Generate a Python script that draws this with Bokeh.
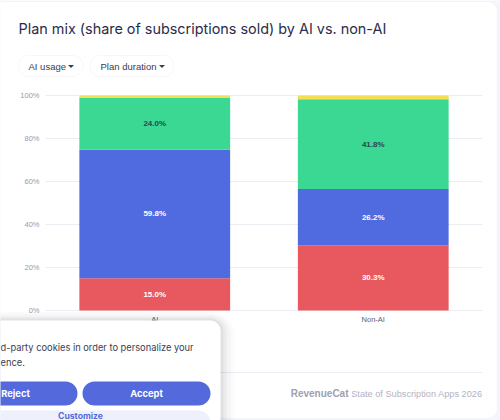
from bokeh.plotting import figure
from bokeh.models import (ColumnDataSource, Range1d, Label, BoxAnnotation,
                          PolyAnnotation)
from bokeh.embed import file_html
from bokeh.resources import INLINE
from bokeh.core.properties import value

# ---- data -------------------------------------------------------------
groups = ["AI", "Non-AI"]
plan_weekly = [15.0, 30.3]
plan_monthly = [59.8, 26.2]
plan_annual = [24.0, 41.8]
plan_other = [1.2, 1.7]
y_ticks = [0, 20, 40, 60, 80, 100]
y_tick_labels = ["0%", "20%", "40%", "60%", "80%", "100%"]

series = ["plan_weekly", "plan_monthly", "plan_annual", "plan_other"]
colors = ["#e8585f", "#506ae0", "#3ad893", "#f4df52"]
label_colors = ["#ffffff", "#ffffff", "#2c4352", None]

# ---- page geometry (canvas pixels, y grows downward) ------------------
W, H = 500, 420
FL, FR, FT, FB = 45, 482, 95, 310          # plot area inside the card
Y_MAX = 100.0

CHART_FONT = "Liberation Sans"
UI_FONT = "Inter"

# pixel space for the page furniture (y flipped so it grows downward)
p = figure(width=W, height=H, x_range=Range1d(0, W), y_range=Range1d(H, 0),
           output_backend="svg", toolbar_location=None,
           x_axis_location=None, y_axis_location=None, min_border=0)
p.background_fill_color = "#f5f6fd"
p.border_fill_color = "#f5f6fd"
p.outline_line_color = None
p.grid.visible = False

# category and percentage scales laid over the plot area
n = len(groups)
unit = (FR - FL) / n
p.extra_x_ranges = {"cat": Range1d((0 - FL) / unit, (W - FL) / unit)}
px_per_pct = (FB - FT) / Y_MAX
p.extra_y_ranges = {"pct": Range1d(-(H - FB) / px_per_pct, FB / px_per_pct)}

src = ColumnDataSource(dict(group=groups,
                            xpos=[i + 0.5 for i in range(n)],
                            plan_weekly=plan_weekly, plan_monthly=plan_monthly,
                            plan_annual=plan_annual, plan_other=plan_other))


# ---- helpers for the page furniture -------------------------------------
def box(l, t, r, b, fill, line=None, radius=0, alpha=1.0, level="annotation", lw=1):
    p.add_layout(BoxAnnotation(
        left=l, right=r, top=t, bottom=b,
        fill_color=fill, fill_alpha=alpha if fill else 0, line_color=line,
        line_width=lw, border_radius=int(round(radius)), level=level))


def label(cx, cy, text, size, color, font=UI_FONT, bold=False, align="left",
          level="annotation"):
    p.add_layout(Label(
        x=cx, y=cy, text=text,
        text_font=font, text_font_size=f"{size}px", text_color=color,
        text_align=align, text_baseline="middle",
        text_font_style="bold" if bold else "normal", level=level))


def caret(cx, cy, color):
    p.add_layout(PolyAnnotation(
        xs=[cx - 3, cx + 3, cx], ys=[cy - 1.5, cy - 1.5, cy + 1.5],
        fill_color=color, fill_alpha=1, line_color=None, level="annotation"))


# card
box(-12, 1, 497, 418, "#ffffff", line="#e1e3f3", radius=10, level="image")

# ---- chart ----------------------------------------------------------------
# horizontal grid
p.segment(x0=FL, x1=FR, y0=y_ticks, y1=y_ticks, y_range_name="pct",
          line_color="#ececf2", line_width=1)

# stacked bars
p.vbar_stack(series, x="xpos", width=0.69, color=colors, line_color=None,
             source=src, x_range_name="cat", y_range_name="pct")

# segment value labels
lx, ly, lt, lc = [], [], [], []
for i in range(n):
    base = 0.0
    for name, col in zip(series, label_colors):
        v = src.data[name][i]
        if col is not None:
            lx.append(src.data["xpos"][i])
            ly.append(base + v / 2)
            lt.append(f"{v:.1f}%")
            lc.append(col)
        base += v
p.text(x="x", y="y", text="t", text_color="c",
       source=ColumnDataSource(dict(x=lx, y=ly, t=lt, c=lc)),
       x_range_name="cat", y_range_name="pct",
       text_align="center", text_baseline="middle",
       text_font=value(CHART_FONT), text_font_size="8px",
       text_font_style="bold")

# y tick labels
p.text(x=[FL - 6] * len(y_ticks), y=y_ticks, text=y_tick_labels,
       y_range_name="pct", text_align="right", text_baseline="middle",
       text_color="#9a9aad", text_font=value(CHART_FONT),
       text_font_size="7.5px")

# category labels
p.text(x=src.data["xpos"], y=[FB + 8.5] * n, text=groups, x_range_name="cat",
       text_align="center", text_baseline="middle", text_color="#5a5c70",
       text_font=value(CHART_FONT), text_font_size="7.5px")

# ---- header -----------------------------------------------------------------
label(18, 28, "Plan mix (share of subscriptions sold) by AI vs. non-AI", 14.4,
      "#2a2c4a")

box(18, 55, 82.5, 76, "#ffffff", line="#e3e4ee", radius=10)
label(28, 66, "AI usage", 9.5, "#3a3c52", font=CHART_FONT)
caret(70.5, 66, "#3a3c52")
box(89.5, 55, 173.5, 76, "#ffffff", line="#e3e4ee", radius=10)
label(100, 66, "Plan duration", 9.5, "#3a3c52", font=CHART_FONT)
caret(161.5, 66, "#3a3c52")

# ---- footer -----------------------------------------------------------------
box(18, 371.5, 482, 372.5, "#ececf6")
label(348, 393, "RevenueCat", 10, "#a0a0b3", font=CHART_FONT, bold=True,
      align="right")
label(482, 393, "State of Subscription Apps 2026", 9.2, "#b3b3c4",
      font=CHART_FONT, align="right")

# ---- consent banner with a soft shadow ----------------------------------------
for grow, a in [(14, 0.02), (10, 0.03), (6, 0.04), (3, 0.05)]:
    box(-30, 320 - grow * 0.6, 220 + grow, 460, "#1c1e3a", radius=10 + grow,
        alpha=a, level="overlay")
box(-30, 320, 220, 460, "#ffffff", radius=10, level="overlay")
label(0, 346.5, "d-party cookies in order to personalize your", 9.3,
      "#3b3d55", level="overlay")
label(0, 362, "ence.", 9.3, "#3b3d55", level="overlay")
box(-49, 381, 77, 405, "#5469dc", radius=12, level="overlay")
box(82, 381, 210, 405, "#5469dc", radius=12, level="overlay")
label(15, 393, "Reject", 9.4, "#ffffff", bold=True, align="center",
      level="overlay")
label(146, 393, "Accept", 9.4, "#ffffff", bold=True, align="center",
      level="overlay")
box(-49, 410, 210, 440, "#eef0fc", radius=12, level="overlay")
label(80, 415.5, "Customize", 8.6, "#5469dc", bold=True, align="center",
      level="overlay")

open("out.html", "w").write(file_html(p, INLINE))
